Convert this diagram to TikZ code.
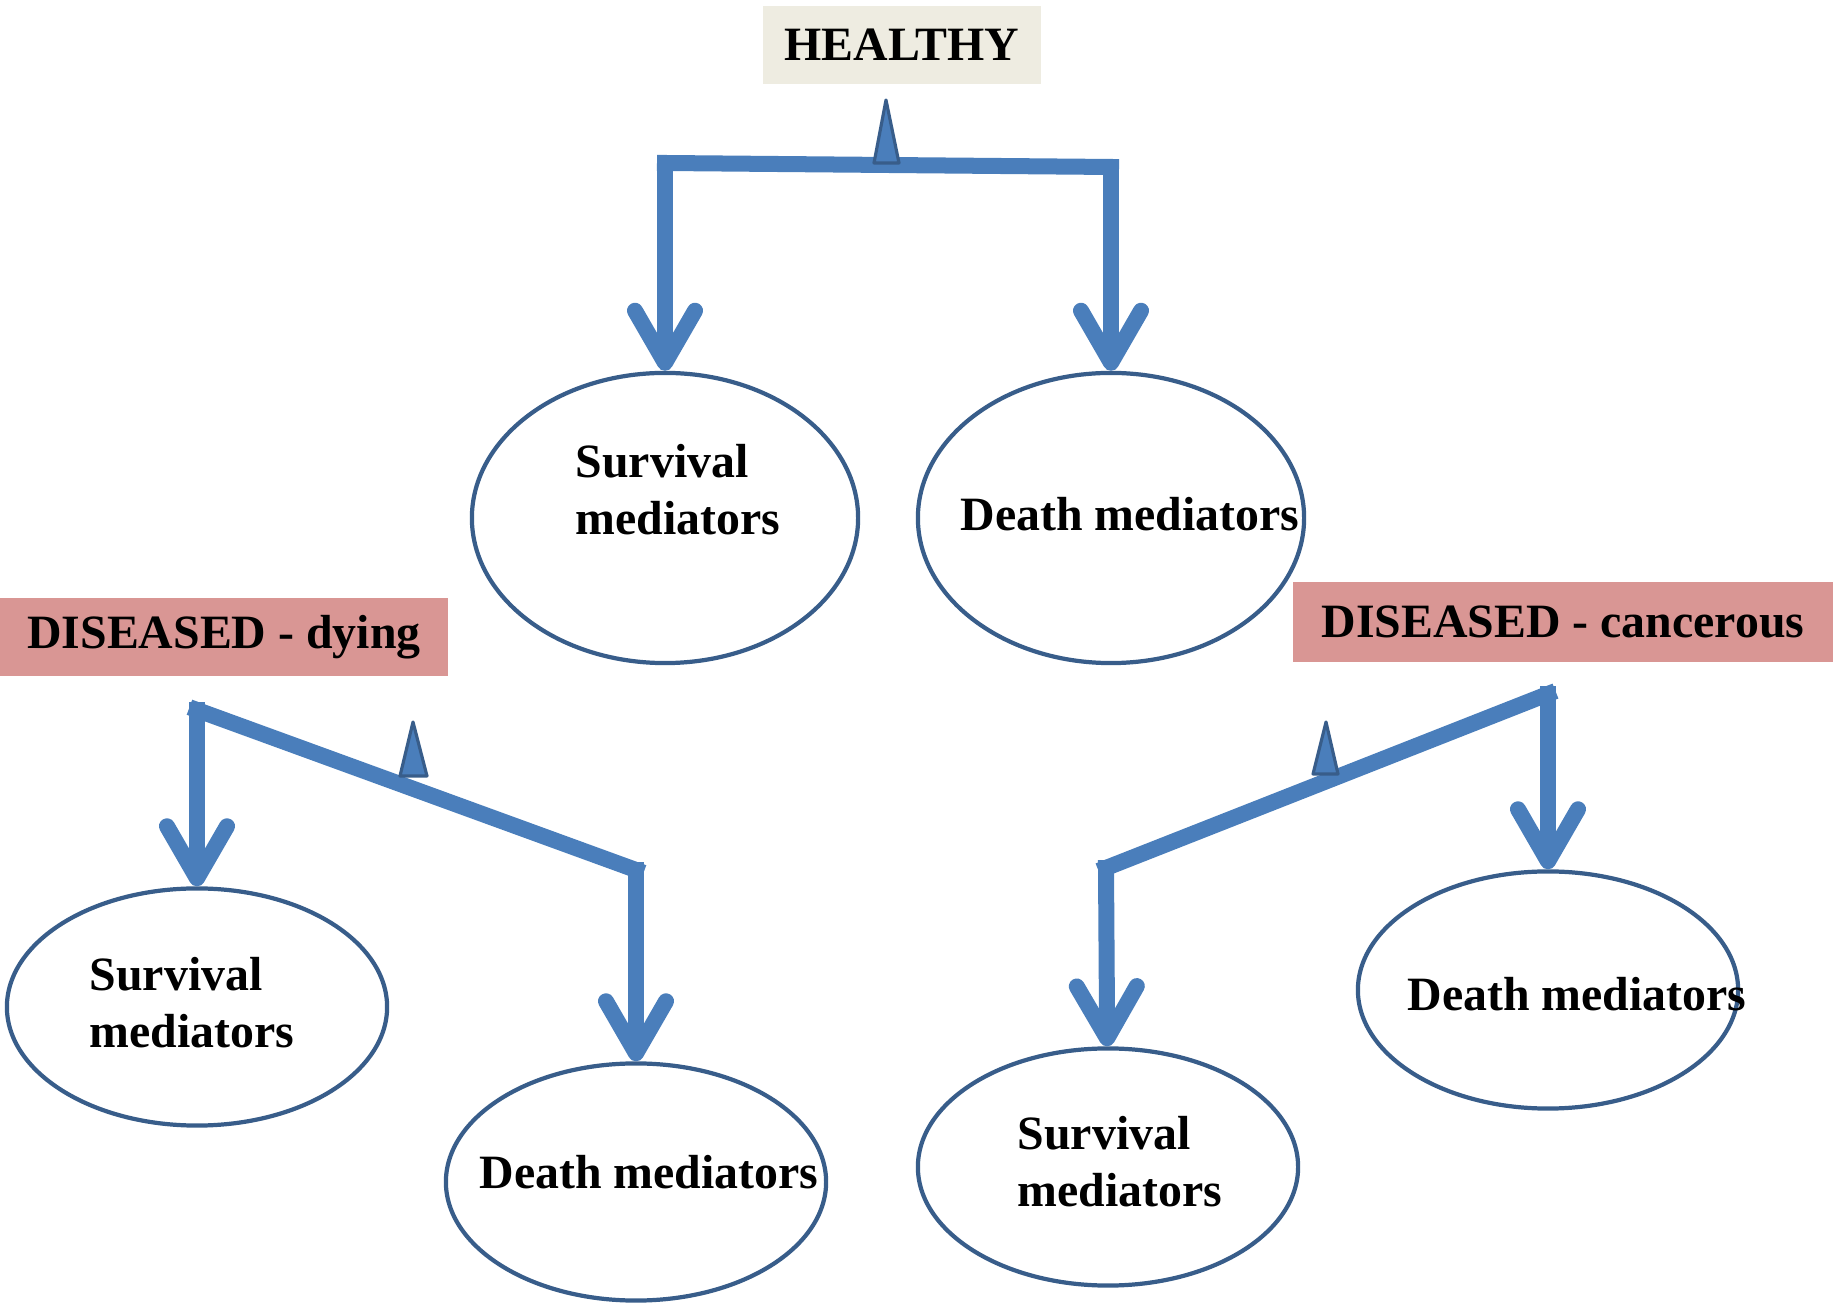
\documentclass[tikz,border=0pt]{standalone}
\usepackage{fontspec}
\setmainfont{Liberation Serif}
\usetikzlibrary{arrows.meta,shapes.geometric}
\definecolor{beamblue}{HTML}{4A7EBB}
\definecolor{rimblue}{HTML}{385D8A}
\definecolor{healthybg}{HTML}{EEECE1}
\definecolor{diseasebg}{HTML}{D99694}

\begin{document}
\begin{tikzpicture}[x=0.01cm,y=-0.01cm,
    >={Straight Barb[length=0.52cm,width=0.6cm,round]},
    lbl/.style={font=\bfseries\fontsize{13.6}{16.2}\selectfont,align=left,inner sep=0pt},
    med/.style={ellipse,draw=rimblue,line width=1.2pt,minimum width=3.8cm,minimum height=2.37cm},
    state/.style={lbl,inner sep=0pt},
    beam/.style={draw=beamblue,line width=0.16cm,line cap=rect},
    pivot/.style={fill=beamblue,draw=rimblue,line width=0.9pt,line join=round}]
    \useasboundingbox (0,0) rectangle (1833,1304);

    % states
    \node[state,fill=healthybg,minimum width=2.77cm,minimum height=0.78cm] (H) at (902,45) {HEALTHY};
    \node[state,fill=diseasebg,minimum width=4.48cm,minimum height=0.77cm] (DD) at (224,637) {DISEASED - dying};
    \node[state,fill=diseasebg,minimum width=5.39cm,minimum height=0.79cm] (DC) at (1563,622) {DISEASED - cancerous};

    % mediators
    \node[med,minimum width=3.86cm,minimum height=2.9cm,label={[lbl,shift={(13,-28)}]center:{Survival\\mediators}}] (SH) at (665,518) {};
    \node[med,minimum width=3.86cm,minimum height=2.9cm,label={[lbl,shift={(19,-4)}]center:{Death mediators}}] (DH) at (1111,518) {};
    \node[med,label={[lbl,shift={(-5,-4)}]center:{Survival\\mediators}}] (SD) at (197,1007) {};
    \node[med,label={[lbl,shift={(13,-10)}]center:{Death mediators}}] (DeD) at (636,1182) {};
    \node[med,label={[lbl,shift={(12,-5)}]center:{Survival\\mediators}}] (SC) at (1108,1167) {};
    \node[med,label={[lbl,shift={(29,4)}]center:{Death mediators}}] (DeC) at (1548,990) {};

    % balances
    \coordinate (hl) at (665,163);
    \coordinate (hr) at (1111,167);
    \draw[beam] (hl) -- (hr);
    \draw[beam,->] (hl) -- (SH);
    \draw[beam,->] (hr) -- (DH);
    \draw[pivot] (886,100) -- (874,163) -- (899,163) -- cycle;

    \coordinate (dl) at (197,710);
    \coordinate (dr) at (636,870);
    \draw[beam] (dl) -- (dr);
    \draw[beam,->] (dl) -- (SD);
    \draw[beam,->] (dr) -- (DeD);
    \draw[pivot] (413,722) -- (400,776) -- (427,776) -- cycle;

    \coordinate (cl) at (1106,868);
    \coordinate (cr) at (1548,694);
    \draw[beam] (cl) -- (cr);
    \draw[beam,->] (cl) -- (SC);
    \draw[beam,->] (cr) -- (DeC);
    \draw[pivot] (1326,722) -- (1313,774) -- (1338,774) -- cycle;
\end{tikzpicture}
\end{document}
